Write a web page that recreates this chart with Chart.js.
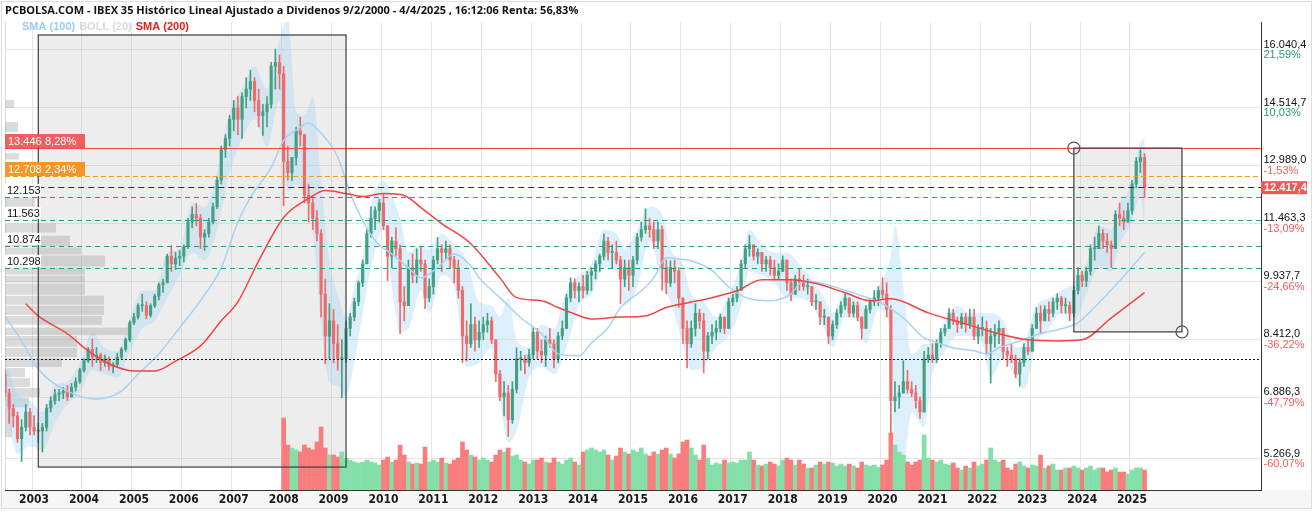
<!DOCTYPE html>
<html>
<head>
<meta charset="utf-8">
<script src="https://cdn.jsdelivr.net/npm/chart.js@4.4.1/dist/chart.umd.min.js"></script>
<style>
html, body { margin: 0; padding: 0; background: #fff; }
#wrap { width: 1315px; height: 512px; }
</style>
</head>
<body>
<div id="wrap"><canvas id="myChart" width="1315" height="512"></canvas></div>
<script>
// monthly axis, jun 2002 .. aug 2027 (space on the right is empty like the original)
const months = []
for (let y = 2002, m = 6; y < 2027 || (y === 2027 && m <= 8);) {
	months.push(y + '-' + String(m).padStart(2, '0'))
	m++
	if (m > 12) { m = 1; y++ }
}
const lastYearLabel = 2025

// IBEX 35 monthly candles (jun 2002 .. apr 2025)
const firstOpen = 7500
const highs = [
	7600, 7100, 6700, 6500, 6300, 6700, 6600,
	6400, 6200, 6200, 6700, 6900, 7100, 7100, 7150, 7200, 7250, 7400, 7650,
	7900, 8200, 8420, 8200, 8050, 8000, 7950, 7800, 8050, 8200, 8450, 8900,
	9100, 9350, 9600, 9400, 9350, 9600, 9900, 10000, 10650, 10880, 10700, 10750,
	10900, 11600, 11900, 11990, 11700, 11300, 11600, 12000, 12700, 13500, 13800, 14300,
	14700, 14800, 14900, 15300, 15500, 15300, 15000, 14600, 14800, 15700, 16050, 15900,
	15600, 13500, 13200, 14000, 14260, 13800, 12500, 12200, 11800, 11300, 10000, 9350,
	9200, 8800, 8400, 8900, 9100, 9500, 9950, 10500, 11300, 11900, 11900, 12100,
	12250, 11400, 11100, 11350, 10900, 9800, 10500, 10660, 10800, 10840, 10500, 10000,
	10600, 11090, 10900, 11000, 10900, 10600, 10500, 9800, 8900, 9350, 9000, 8900,
	9000, 9100, 9000, 8400, 7600, 7300, 7200, 7300, 8190, 8100, 8000, 8150,
	8720, 8700, 8400, 8500, 8700, 8400, 8600, 8900, 9600, 10030, 10000, 9900,
	10100, 10200, 10300, 10480, 10660, 11190, 11100, 10900, 11000, 10600, 10500, 10500,
	10600, 11200, 11500, 11850, 11600, 11500, 11500, 11400, 10500, 10480, 10500, 10300,
	9500, 8900, 8900, 9350, 9200, 9100, 8600, 8800, 8900, 9080, 9000, 9500,
	9600, 9800, 10500, 10900, 11150, 10900, 10800, 10700, 10600, 10600, 10500, 10400,
	10610, 10500, 10000, 10100, 10270, 10100, 10000, 9800, 9600, 9400, 9200, 9000,
	8900, 9200, 9400, 9610, 9500, 9400, 9400, 9000, 9300, 9500, 9700, 9800,
	10030, 9900, 9300, 7300, 7200, 7850, 7600, 7300, 7200, 6900, 8100, 8200,
	8300, 8400, 8700, 8800, 9220, 9200, 9000, 9100, 9100, 9200, 9200, 8800,
	9000, 8900, 8700, 8800, 8900, 8700, 8200, 8300, 8000, 7900, 8300, 8400,
	8800, 9250, 9300, 9300, 9400, 9500, 9610, 9550, 9500, 9400, 9800, 10300,
	10200, 10300, 10900, 11100, 11400, 11300, 11200, 11000, 11800, 12000, 11800, 12000,
	12600, 13200, 13400, 13300
]
const lows = [
	6900, 6200, 6100, 5700, 5200, 6000, 5900,
	5900, 5700, 5450, 6000, 6500, 6700, 6800, 6850, 6800, 6900, 7050, 7250,
	7550, 7800, 7700, 7800, 7600, 7700, 7600, 7530, 7700, 7900, 8100, 8350,
	8800, 8950, 9150, 8950, 9000, 9250, 9450, 9650, 9900, 10200, 10250, 10350,
	10450, 10800, 11350, 11400, 10800, 10750, 11100, 11450, 11850, 12500, 13200, 13500,
	13900, 13800, 13700, 14500, 14700, 14400, 14000, 13780, 14000, 14500, 15000, 15000,
	11930, 12600, 12590, 13000, 13500, 12000, 11500, 11300, 11000, 9000, 7770, 7900,
	7800, 7600, 6870, 7800, 8500, 8900, 9300, 9800, 10400, 11100, 11300, 11500,
	11300, 9960, 10300, 10600, 8560, 8900, 9300, 9900, 9900, 10200, 9220, 9400,
	9600, 10400, 10200, 10500, 10300, 9900, 9500, 7800, 7840, 8200, 8100, 8200,
	8400, 8600, 8300, 7300, 6800, 6400, 5860, 6200, 7000, 7600, 7500, 7700,
	7900, 7900, 7800, 7700, 8200, 7660, 7800, 8400, 8700, 9400, 9500, 9400,
	9500, 9600, 9700, 10000, 10200, 10500, 10500, 10300, 10400, 9350, 9800, 9700,
	9800, 10400, 11000, 11200, 11100, 10800, 10800, 9700, 9610, 9800, 9900, 9250,
	8300, 7660, 8200, 8500, 8700, 7530, 7900, 8300, 8400, 8600, 8560, 8700,
	9300, 9400, 9700, 10300, 10600, 10500, 10400, 10200, 10200, 10100, 10000, 10000,
	10200, 9700, 9430, 9600, 9700, 9700, 9600, 9300, 9200, 8800, 8800, 8290,
	8400, 8700, 9000, 9200, 9000, 9000, 8900, 8420, 8700, 9100, 9300, 9300,
	9500, 9000, 5940, 6500, 6600, 7000, 7000, 6900, 6600, 6330, 6500, 7800,
	7800, 7800, 8200, 8500, 8700, 8800, 8600, 8700, 8600, 8700, 8400, 8300,
	8500, 8000, 7260, 8200, 8300, 7900, 7700, 7800, 7400, 7180, 7700, 8000,
	8100, 8700, 8560, 8900, 8900, 9000, 9200, 9100, 9100, 8900, 9000, 9600,
	9800, 9800, 10100, 10500, 10800, 10800, 10700, 10300, 10800, 11400, 11300, 11500,
	11700, 12400, 12800, 12150
]
const closes = [
	7000, 6600, 6400, 5800, 6100, 6500, 6100,
	6000, 6000, 6100, 6600, 6800, 6950, 7000, 7050, 6900, 7150, 7300, 7600,
	7850, 8150, 7950, 8000, 7800, 7900, 7700, 7750, 7950, 8150, 8400, 8850,
	9000, 9300, 9300, 9050, 9300, 9550, 9850, 9900, 10600, 10400, 10550, 10600,
	10850, 11500, 11700, 11600, 11100, 11200, 11500, 11900, 12600, 13400, 13700, 14200,
	14500, 14200, 14800, 15000, 15200, 14700, 14300, 14400, 14600, 15600, 15700, 15400,
	13100, 12800, 13200, 13900, 13800, 12200, 12000, 11600, 11200, 9600, 8500, 8900,
	8300, 7900, 7900, 8700, 9000, 9400, 9900, 10400, 11200, 11600, 11800, 12000,
	11400, 10600, 11000, 10800, 9400, 9300, 10300, 10100, 10500, 10400, 9500, 9800,
	10500, 10800, 10700, 10800, 10500, 10300, 9700, 8500, 8300, 8800, 8400, 8600,
	8800, 8900, 8400, 7500, 6900, 7000, 6300, 7100, 7900, 7900, 7800, 8000,
	8600, 8100, 8000, 8400, 8300, 7900, 8500, 8700, 9500, 9900, 9700, 9800,
	9700, 10100, 10200, 10400, 10600, 11000, 10700, 10700, 10500, 10000, 10300, 10100,
	10500, 11100, 11300, 11400, 11300, 11000, 11300, 10300, 9900, 10300, 10200, 9500,
	8700, 8300, 8700, 9100, 8900, 8100, 8500, 8600, 8700, 9000, 8700, 9400,
	9500, 9700, 10400, 10800, 10900, 10600, 10700, 10400, 10500, 10300, 10100, 10200,
	10500, 9900, 9600, 10000, 9900, 9800, 9800, 9400, 9400, 9000, 9000, 8500,
	8800, 9100, 9300, 9500, 9100, 9300, 9000, 8700, 9200, 9400, 9500, 9700,
	9600, 9200, 6800, 6900, 7000, 7300, 7100, 7000, 6800, 6500, 7900, 8000,
	7900, 8300, 8600, 8700, 9100, 8900, 8800, 9000, 8800, 9000, 8500, 8700,
	8700, 8300, 8500, 8600, 8700, 8100, 8000, 7900, 7500, 7800, 8200, 8100,
	8700, 9100, 8900, 9200, 9100, 9400, 9500, 9300, 9300, 9100, 9700, 10100,
	9950, 10200, 10800, 10800, 11200, 11000, 10900, 10800, 11700, 11600, 11500, 11800,
	12500, 13100, 13200, 12417.4
]
const opens = [firstOpen].concat(closes.slice(0, -1))

// volume, monthly from jan 2008 (same units as the bottom pane height)
const volStart = '2008-01'
const volumes = [
	72, 45, 42, 40, 38, 45, 42, 40, 48, 63, 42, 35,
	35, 33, 38, 32, 30, 28, 27, 28, 30, 28, 27, 25,
	30, 33, 28, 30, 45, 35, 28, 26, 27, 26, 43, 28,
	30, 28, 32, 27, 26, 30, 32, 48, 40, 35, 33, 30,
	32, 30, 28, 35, 40, 38, 42, 34, 35, 30, 28, 26,
	30, 30, 32, 28, 27, 32, 28, 26, 30, 32, 28, 25,
	38, 40, 42, 40, 38, 40, 35, 30, 34, 42, 38, 36,
	40, 38, 42, 36, 34, 38, 36, 40, 42, 36, 32, 36,
	48, 50, 42, 35, 30, 45, 32, 25, 27, 26, 30, 27,
	28, 27, 30, 30, 38, 30, 25, 24, 26, 28, 26, 24,
	30, 32, 30, 25, 30, 26, 22, 22, 25, 28, 26, 28,
	27, 24, 26, 24, 26, 24, 22, 28, 25, 24, 25, 23,
	25, 30, 57, 45, 38, 35, 28, 25, 28, 30, 55, 32,
	30, 28, 30, 26, 25, 27, 22, 20, 24, 22, 28, 24,
	26, 30, 42, 30, 28, 30, 22, 20, 26, 28, 24, 22,
	25, 24, 35, 22, 24, 26, 20, 20, 22, 22, 24, 22,
	20, 22, 24, 20, 22, 22, 18, 20, 22, 18, 18, 16,
	20, 22, 22, 20
]

// SMA (200)
const sma200Months = ['2002-11', '2003-02', '2003-09', '2004-02', '2004-07', '2005-01', '2005-06', '2005-11',
	'2006-05', '2006-10', '2007-02', '2007-07', '2008-01', '2008-07', '2008-11', '2009-04', '2009-08',
	'2010-01', '2010-06', '2010-10', '2011-03', '2011-10', '2012-05', '2012-09', '2013-03', '2013-07',
	'2013-11', '2014-03', '2014-10', '2015-04', '2015-09', '2016-02', '2016-08', '2017-02', '2017-08',
	'2018-03', '2018-09', '2019-04', '2019-10', '2020-03', '2020-12', '2021-09', '2022-05', '2022-12',
	'2023-07', '2024-01', '2024-08', '2025-04']
const sma200Values = [9350, 9030, 8560, 8110, 7770, 7580, 7580, 7840,
	8240, 8900, 9400, 10480, 11620, 12120, 12330, 12250, 12170,
	12250, 12200, 11880, 11460, 10930, 10030, 9510, 9430, 9250,
	9080, 8950, 9000, 9030, 9250, 9370, 9510, 9690, 9980,
	9980, 9880, 9640, 9430, 9480, 9110, 8820, 8560, 8400,
	8370, 8400, 8980, 9640]

// SMA (100)
const sma100Months = ['2002-06', '2002-10', '2003-02', '2003-09', '2004-04', '2004-10', '2005-02', '2005-07',
	'2005-12', '2006-05', '2006-10', '2007-02', '2007-05', '2007-10', '2008-01', '2008-04', '2008-07',
	'2008-10', '2009-02', '2009-05', '2009-08', '2009-11', '2010-03', '2010-07', '2010-10', '2011-02',
	'2011-06', '2011-10', '2011-12', '2012-05', '2012-10', '2013-03', '2013-07', '2013-12', '2014-03',
	'2014-07', '2014-10', '2015-03', '2015-06', '2015-09', '2015-12', '2016-03', '2016-08', '2016-12',
	'2017-05', '2017-10', '2018-03', '2018-06', '2018-11', '2019-03', '2019-08', '2020-01', '2020-06',
	'2020-11', '2021-01', '2021-06', '2021-11', '2022-02', '2022-05', '2022-10', '2023-03', '2023-08',
	'2023-12', '2024-05', '2024-10', '2025-04']
const sma100Values = [9030, 8370, 7630, 7050, 6840, 7050, 7500, 8030,
	8720, 9430, 10300, 11500, 12150, 12940, 13650, 13920, 14100,
	13840, 13210, 12250, 11540, 11010, 10660, 10300, 10030, 10300,
	10660, 10350, 10030, 9510, 8980, 8560, 8030, 7980, 8320,
	8720, 9250, 9690, 10030, 10560, 10530, 10480, 10220, 9790,
	9480, 9430, 9610, 9955, 9870, 9740, 9560, 9350, 8980,
	8450, 8370, 8190, 8110, 8030, 8190, 8370, 8560, 8690,
	8850, 9370, 9955, 10700]

// BOLL (20) envelope
const bollMonths = ['2002-06', '2002-09', '2002-12', '2003-03', '2003-06', '2003-09', '2003-12', '2004-03',
	'2004-06', '2004-09', '2004-12', '2005-03', '2005-06', '2005-09', '2005-12', '2006-03', '2006-06',
	'2006-09', '2006-12', '2007-03', '2007-06', '2007-09', '2007-12', '2008-02', '2008-04', '2008-06',
	'2008-08', '2008-10', '2008-12', '2009-02', '2009-04', '2009-06', '2009-08', '2009-10', '2010-01',
	'2010-03', '2010-05', '2010-07', '2010-10', '2010-12', '2011-03', '2011-06', '2011-09', '2011-12',
	'2012-03', '2012-05', '2012-07', '2012-09', '2012-12', '2013-03', '2013-06', '2013-09', '2013-12',
	'2014-03', '2014-06', '2014-09', '2014-11', '2015-02', '2015-05', '2015-08', '2015-10', '2016-01',
	'2016-03', '2016-06', '2016-09', '2016-12', '2017-03', '2017-05', '2017-08', '2017-11', '2018-02',
	'2018-05', '2018-08', '2018-11', '2019-01', '2019-04', '2019-07', '2019-09', '2019-12', '2020-02',
	'2020-03', '2020-04', '2020-06', '2020-08', '2020-11', '2021-01', '2021-04', '2021-07', '2021-10',
	'2022-01', '2022-03', '2022-06', '2022-09', '2022-11', '2023-02', '2023-05', '2023-08', '2023-11',
	'2024-02', '2024-05', '2024-08', '2024-10', '2025-01', '2025-03', '2025-04']
const bollUpper = [7900, 7000, 6800, 6500, 7200, 7300, 7800, 8600,
	8200, 8100, 8950, 9700, 9700, 10700, 10800, 12000, 11900,
	12800, 14400, 15000, 15600, 15000, 16300, 16900, 14400, 14300,
	14800, 12600, 10500, 9600, 9000, 9800, 10600, 12000, 12600,
	12200, 11600, 10700, 10900, 10800, 11200, 10900, 10500, 9400,
	9300, 9000, 9500, 8400, 8200, 8800, 8700, 9700, 10100,
	10400, 11300, 11200, 10800, 11300, 11900, 11700, 10800, 10400,
	9600, 9400, 9000, 9600, 10400, 11300, 10900, 10700, 10700,
	10400, 10000, 9500, 9100, 9700, 9500, 9300, 9800, 10200,
	10600, 11400, 9800, 8000, 8300, 8300, 8900, 9300, 9100,
	9100, 9100, 8900, 8200, 8300, 9300, 9500, 9700, 9900,
	10400, 11400, 11300, 12000, 12500, 13600, 13700]
const bollLower = [6800, 5400, 5600, 5500, 6200, 6700, 7000, 7600,
	7500, 7400, 8100, 8700, 8900, 9500, 10100, 10700, 10500,
	11300, 12800, 13700, 14200, 13500, 14700, 12300, 12500, 12200,
	11300, 8800, 7300, 7200, 6900, 7800, 9100, 10300, 11300,
	9800, 8600, 8700, 9700, 9100, 10100, 9800, 7700, 7800,
	8200, 6800, 5700, 6000, 7400, 7700, 7500, 8200, 9300,
	9600, 10300, 10200, 9300, 9800, 11000, 9900, 9400, 8300,
	7600, 7700, 8200, 8500, 9300, 10200, 10100, 9900, 9500,
	9500, 9300, 8700, 8200, 9000, 8900, 8300, 9200, 9100,
	8000, 5600, 5100, 6500, 6100, 7500, 8100, 8500, 8500,
	8300, 7400, 7900, 7400, 7100, 8300, 8700, 9100, 8900,
	9600, 10300, 10200, 10900, 11500, 12200, 11300]

// volume at price (left histogram)
const profLow = [14470, 13840, 13120, 11880, 11670, 11195, 10830, 10620, 10300, 10090, 9880, 9560, 9300, 9030,
	8770, 8500, 8190, 7920, 7660, 7390, 7130, 6870, 6600, 5810]
const profHigh = [14710, 14130, 13310, 12150, 11880, 11460, 11140, 10830, 10620, 10300, 10090, 9880, 9560, 9300,
	9030, 8720, 8500, 8190, 7920, 7660, 7390, 7130, 6870, 6600]
const profVol = [9, 13, 14, 30, 22, 51, 65, 76, 100, 80, 80, 80, 99, 99,
	97, 125, 72, 72, 57, 20, 25, 35, 24, 7]

// right axis
const priceTicks = [16040.4, 14514.7, 12989.0, 11463.3, 9937.7, 8412.0, 6886.3, 5266.9]
const priceTickLabels = ['16.040,4', '14.514,7', '12.989,0', '11.463,3', '9.937,7', '8.412,0', '6.886,3', '5.266,9']
const pctLabels = ['21,59%', '10,03%', '-1,53%', '-13,09%', '-24,66%', '-36,22%', '-47,79%', '-60,07%']

// drawn levels
const boxLevels = [13446, 12708]
const boxLevelLabels = ['13.446', '12.708']
const boxLevelPct = ['8,28%', '2,34%']
const supportLevels = [12153, 11563, 10874, 10298]
const supportLabels = ['12.153', '11.563', '10.874', '10.298']
const lastPrice = 12417.4
const lastPriceLabel = '12.417,4'
const dottedLevel = 7896

// drawn boxes
const rectStart = ['2003-02', '2023-11']
const rectEnd = ['2009-04', '2026-01']
const rectTop = [16422, 13446]
const rectBottom = [5052, 8609]

const titleText = 'PCBOLSA.COM - IBEX 35 Histórico Lineal Ajustado a Dividenos 9/2/2000 - 4/4/2025 , 16:12:06 Renta: 56,83%'

const GREEN = '#44a083'
const RED = '#ef6b6b'
const isUp = i => closes[i] >= opens[i]
const volIdx0 = months.indexOf(volStart)
const isYearStart = i => {
	const m = months[i] || ''
	return m.endsWith('-01') && +m.slice(0, 4) <= lastYearLabel
}

const pts = (ms, vs) => ms.map((m, k) => ({x: m, y: vs[k]}))

const overlay = {
	id: 'overlay',
	beforeDraw(chart) {
		const {ctx, chartArea: a} = chart
		ctx.save()
		ctx.fillStyle = '#f6f6f6'
		ctx.fillRect(0, a.bottom, a.right + 50, 18)
		ctx.strokeStyle = '#dddddd'
		ctx.lineWidth = 1
		ctx.strokeRect(1.5, 1.5, a.right + 49, 507)
		ctx.beginPath()
		ctx.moveTo(a.left + 0.5, a.top); ctx.lineTo(a.left + 0.5, a.bottom)
		ctx.stroke()
		ctx.restore()
	},
	beforeDatasetsDraw(chart) {
		const {ctx, scales} = chart
		const x = scales.x, y = scales.y, xp = scales.xProf
		ctx.save()
		// boxes
		for (let k = 0; k < rectStart.length; k++) {
			const x1 = x.getPixelForValue(months.indexOf(rectStart[k]))
			const x2 = x.getPixelForValue(months.indexOf(rectEnd[k]))
			const y1 = y.getPixelForValue(rectTop[k])
			const y2 = y.getPixelForValue(rectBottom[k])
			ctx.fillStyle = 'rgba(175,175,175,0.22)'
			ctx.fillRect(x1, y1, x2 - x1, y2 - y1)
		}
		// volume at price
		ctx.fillStyle = 'rgba(160,160,160,0.38)'
		const x0 = xp.getPixelForValue(0)
		for (let k = 0; k < profVol.length; k++) {
			const y1 = y.getPixelForValue(profHigh[k])
			const y2 = y.getPixelForValue(profLow[k])
			ctx.fillRect(x0, y1, xp.getPixelForValue(profVol[k]) - x0, y2 - y1 - 1)
		}
		ctx.restore()
	},
	afterDatasetsDraw(chart) {
		const {ctx, chartArea: a, scales} = chart
		const x = scales.x, y = scales.y
		ctx.save()
		const hline = (v, x1, color, dash) => {
			const py = Math.round(y.getPixelForValue(v)) + 0.5
			ctx.strokeStyle = color
			ctx.lineWidth = 1
			ctx.setLineDash(dash)
			ctx.beginPath(); ctx.moveTo(x1, py); ctx.lineTo(a.right, py); ctx.stroke()
		}
		supportLevels.forEach(v => hline(v, a.left, '#2f9a76', [5, 4]))
		hline(dottedLevel, a.left, '#111111', [2, 2])
		hline(lastPrice, x.getPixelForValue(months.indexOf(rectStart[0])), '#1c1cb0', [6, 4])
		hline(boxLevels[1], a.left, '#f59a1b', [5, 3])
		hline(boxLevels[0], a.left, '#f04848', [])
		ctx.setLineDash([])

		// box outlines and corner handles
		for (let k = 0; k < rectStart.length; k++) {
			const x1 = x.getPixelForValue(months.indexOf(rectStart[k]))
			const x2 = x.getPixelForValue(months.indexOf(rectEnd[k]))
			const y1 = y.getPixelForValue(rectTop[k])
			const y2 = y.getPixelForValue(rectBottom[k])
			ctx.strokeStyle = '#3c3c3c'
			ctx.lineWidth = 1.2
			ctx.strokeRect(x1, y1, x2 - x1, y2 - y1)
			if (k === 1) {
				ctx.strokeStyle = '#555'
				ctx.beginPath(); ctx.arc(x1, y1, 6, 0, Math.PI * 2); ctx.stroke()
				ctx.beginPath(); ctx.arc(x2, y2, 6, 0, Math.PI * 2); ctx.stroke()
			}
		}

		// level tags on the left
		ctx.font = '11px "Liberation Sans", Arial, sans-serif'
		ctx.textBaseline = 'middle'
		const tagColors = ['rgba(240,80,80,0.9)', 'rgba(243,146,30,0.95)']
		boxLevels.forEach((v, k) => {
			const py = Math.round(y.getPixelForValue(v))
			ctx.fillStyle = tagColors[k]
			ctx.fillRect(a.left, py - 14, 80, 14)
			ctx.fillStyle = '#fff'
			ctx.fillText(boxLevelLabels[k], a.left + 3, py - 6.5)
			ctx.fillText(boxLevelPct[k], a.left + 40, py - 6.5)
		})
		supportLevels.forEach((v, k) => {
			const py = Math.round(y.getPixelForValue(v))
			ctx.fillStyle = '#fff'
			ctx.fillRect(a.left, py - 13, 36, 12)
			ctx.fillStyle = '#111'
			ctx.fillText(supportLabels[k], a.left + 2, py - 6.5)
		})
		ctx.restore()
	},
	afterDraw(chart) {
		const {ctx, scales} = chart
		const y = scales.y
		ctx.save()
		ctx.textBaseline = 'middle'
		ctx.textAlign = 'left'
		ctx.font = '11px "Liberation Sans", Arial, sans-serif'
		priceTicks.forEach((v, k) => {
			const py = y.getPixelForValue(v)
			ctx.fillStyle = '#111'
			ctx.fillText(priceTickLabels[k], y.left + 2.5, py - 5)
			ctx.fillStyle = pctLabels[k].startsWith('-') ? '#ff5858' : '#2a9d6f'
			ctx.fillText(pctLabels[k], y.left + 2.5, py + 5.5)
		})
		// last price tag
		const lp = y.getPixelForValue(lastPrice)
		ctx.fillStyle = '#f25858'
		ctx.fillRect(y.left, lp - 6, 46, 13)
		ctx.fillStyle = '#fff'
		ctx.font = 'bold 11px "Liberation Sans", Arial, sans-serif'
		ctx.fillText(lastPriceLabel, y.left + 3, lp + 0.5)

		// title and legend
		ctx.fillStyle = '#111'
		ctx.font = 'bold 11px "Open Sans", "Noto Sans", sans-serif'
		ctx.fillText(titleText, 5, 11)
		ctx.font = 'bold 11px "Liberation Sans", Arial, sans-serif'
		let lx = 22
		const items = [['SMA (100)', '#9ccdf3'], ['BOLL (20)', '#dadada'], ['SMA (200)', '#ee1c1c']]
		items.forEach(([t, c]) => {
			ctx.fillStyle = c
			ctx.fillText(t, lx, 27)
			lx += ctx.measureText(t).width + 4
		})
		ctx.restore()
	}
}

const chart = new Chart('myChart', {
	type: 'bar',
	data: {
		labels: months,
		datasets: [
			{
				type: 'line', label: 'boll up', data: pts(bollMonths, bollUpper),
				borderWidth: 0, pointRadius: 0, fill: false, cubicInterpolationMode: 'monotone', order: 10
			},
			{
				type: 'line', label: 'boll low', data: pts(bollMonths, bollLower),
				borderWidth: 0, pointRadius: 0, fill: '-1', backgroundColor: 'rgba(160,210,245,0.36)',
				cubicInterpolationMode: 'monotone', order: 10
			},
			{
				label: 'volumen', yAxisID: 'yVol',
				data: volumes.map((v, k) => ({x: months[volIdx0 + k], y: v})),
				backgroundColor: c => isUp(volIdx0 + c.dataIndex) ? '#84dfa8' : '#fa7d7d',
				barThickness: 4, grouped: false, order: 8
			},
			{
				label: 'mechas', data: highs.map((h, i) => [lows[i], h]),
				backgroundColor: c => isUp(c.dataIndex) ? GREEN : RED,
				barThickness: 1, grouped: false, order: 6
			},
			{
				label: 'cuerpos', data: closes.map((c, i) => [opens[i], c]),
				backgroundColor: c => isUp(c.dataIndex) ? GREEN : RED,
				barThickness: 2.5, minBarLength: 1, grouped: false, order: 5
			},
			{
				type: 'line', label: 'SMA (100)', data: pts(sma100Months, sma100Values),
				borderColor: '#a6d2f4', borderWidth: 1.5, pointRadius: 0, fill: false,
				cubicInterpolationMode: 'monotone', order: 2
			},
			{
				type: 'line', label: 'SMA (200)', data: pts(sma200Months, sma200Values),
				borderColor: '#f04545', borderWidth: 1.5, pointRadius: 0, fill: false,
				cubicInterpolationMode: 'monotone', order: 1
			}
		]
	},
	options: {
		responsive: false,
		animation: false,
		devicePixelRatio: 1,
		layout: {padding: {left: 5, right: 4, top: 22, bottom: 4}},
		plugins: {legend: {display: false}, tooltip: {enabled: false}},
		scales: {
			x: {
				type: 'category', offset: false,
				afterFit: s => { s.height = 18 },
				grid: {color: c => isYearStart(c.index) ? '#e6e6e6' : 'rgba(0,0,0,0)', drawTicks: false},
				border: {color: '#333'},
				ticks: {
					autoSkip: false, maxRotation: 0, padding: 3, color: '#1a1a1a',
					font: {family: '"Liberation Sans Narrow", "DejaVu Sans Condensed", Arial, sans-serif', size: 12, weight: 'bold'},
					callback: (v, i) => isYearStart(i) ? months[i].slice(0, 4) : ''
				}
			},
			// hidden horizontal scale for the volume-at-price bars, zero height
			xProf: {
				type: 'linear', axis: 'x', position: 'top', min: 0, max: 1256, offset: false,
				afterFit: s => { s.height = 0 },
				ticks: {display: false}, grid: {display: false, offset: false}, border: {display: false}
			},
			y: {
				position: 'right', min: 4448, max: 16764,
				afterBuildTicks: s => { s.ticks = priceTicks.map(v => ({value: v})) },
				afterFit: s => { s.width = 50 },
				ticks: {display: false},
				grid: {color: '#e6e6e6', drawTicks: false},
				border: {color: '#333'}
			},
			yVol: {display: false, min: 0, max: 468}
		}
	},
	plugins: [overlay]
})
</script>
</body>
</html>
